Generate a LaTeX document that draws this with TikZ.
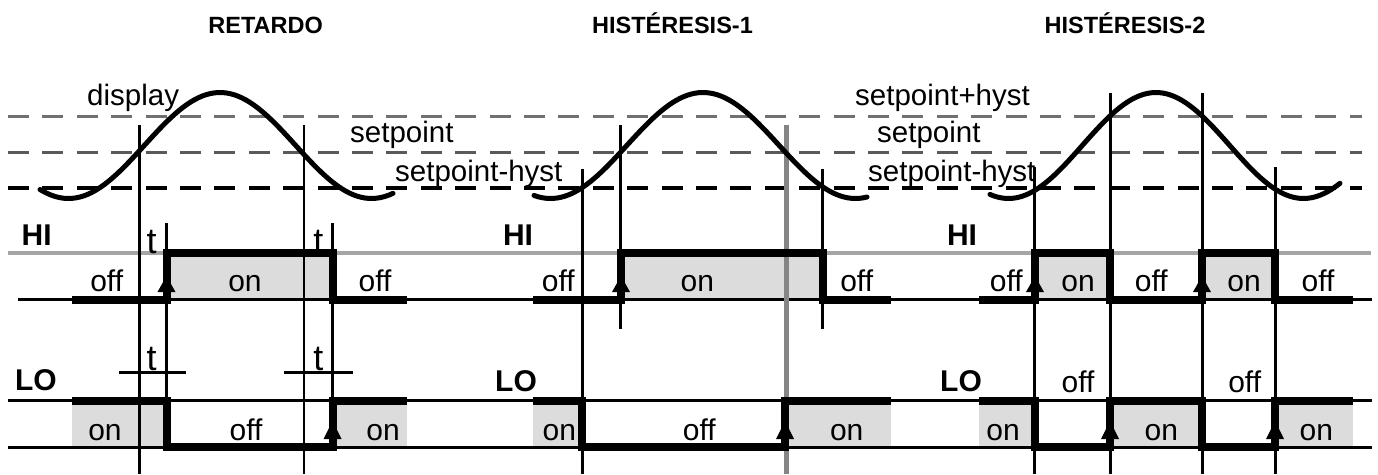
\documentclass[tikz,border=0pt]{standalone}
\usepackage{fontspec}
\setmainfont{Liberation Sans}
\definecolor{fillg}{HTML}{DCDCDC}
\definecolor{dashg}{HTML}{707070}
\definecolor{dashm}{HTML}{5A5A5A}
\definecolor{hig}{HTML}{A5A5A5}
\definecolor{vg}{HTML}{858585}
\begin{document}
\begin{tikzpicture}[x=1pt,y=-1pt,
  lbl/.style={font=\fontsize{29.5}{30}\selectfont, inner sep=0pt, anchor=base west},
  st/.style={font=\fontsize{30}{30}\selectfont, inner sep=0pt, anchor=base},
  tl/.style={font=\fontsize{36}{36}\selectfont, inner sep=0pt, anchor=base},
  hl/.style={font=\fontsize{30}{30}\selectfont\bfseries, inner sep=0pt, anchor=base},
  ttl/.style={font=\fontsize{23.5}{24}\selectfont\bfseries, inner sep=0pt, anchor=base},
  dl/.style={line width=3pt, dash pattern=on 21pt off 13.4pt},
  thinl/.style={line width=2.5pt},
  sig/.style={line width=8pt, line join=miter},
  wave/.style={line width=5pt, line cap=round, line join=round},
  onbox/.style={fill=fillg}
]
\useasboundingbox (0,0) rectangle (1378,474);
% ---- fills
\fill[onbox] (166.5,252.5) rectangle (332.5,299.3);
\fill[onbox] (621,252.5) rectangle (823,299.3);
\fill[onbox] (1035,252.5) rectangle (1110,299.3);
\fill[onbox] (1202,252.5) rectangle (1275,299.3);
\fill[onbox] (72,400.5) rectangle (166.5,446.5);
\fill[onbox] (332.5,400.5) rectangle (406.7,446.5);
\fill[onbox] (533,400.5) rectangle (582,446.5);
\fill[onbox] (785,400.5) rectangle (891,446.5);
\fill[onbox] (979,400.5) rectangle (1035,446.5);
\fill[onbox] (1110,400.5) rectangle (1202,446.5);
\fill[onbox] (1275,400.5) rectangle (1353,446.5);
% ---- threshold lines
\draw[dl, draw=dashg] (8,116) -- (1362,116);
\draw[dl, draw=dashm] (8,152.5) -- (1362,152.5);
\draw[dl, line width=4pt] (8,188) -- (1362,188);
% ---- HI reference line and baselines
\draw[line width=4pt, hig] (8,252.5) -- (1371,252.5);
\draw[thinl] (18,299.3) -- (1372,299.3);
\draw[thinl] (8,400.3) -- (1372,400.3);
\draw[thinl] (8,447.3) -- (1372,447.3);
% ---- vertical markers
\draw[thinl] (139.3,125) -- (139.3,474);
\draw[thinl] (304,125) -- (304,474);
\draw[thinl] (166.5,223) -- (166.5,447);
\draw[thinl] (332.5,223) -- (332.5,447);
\draw[thinl] (119,372.3) -- (185.7,372.3);
\draw[thinl] (284,372.3) -- (352.7,372.3);
\draw[thinl] (582.3,169) -- (582.3,474);
\draw[thinl] (620.7,125) -- (620.7,329);
\draw[thinl] (822.3,169) -- (822.3,329);
\draw[line width=4.5pt, vg] (786.7,125) -- (786.7,474);
\draw[thinl] (1034.7,167) -- (1034.7,474);
\draw[thinl] (1110.3,93) -- (1110.3,474);
\draw[thinl] (1202.3,93) -- (1202.3,474);
\draw[thinl] (1275.3,167) -- (1275.3,474);
% ---- display waves
\draw[wave] plot[domain=40:393, samples=90] (\x, {145.5 - 53*cos(((\x-220)/303)*360)});
\draw[wave] plot[domain=534:867, samples=90] (\x, {145.5 - 53*cos(((\x-703)/305)*360)});
\draw[wave] plot[domain=990:1340, samples=90] (\x, {145.5 - 53*cos(((\x-1156)/295)*360)});
% ---- output signals
\draw[sig] (72,299.5) -- (166.5,299.5) -- (166.5,252.5) -- (332.5,252.5) -- (332.5,299.5) -- (406.7,299.5);
\draw[sig] (72,400.5) -- (166.5,400.5) -- (166.5,446.5) -- (332.5,446.5) -- (332.5,400.5) -- (406.7,400.5);
\draw[sig] (533,299.5) -- (621,299.5) -- (621,252.5) -- (823,252.5) -- (823,299.5) -- (891,299.5);
\draw[sig] (533,400.5) -- (582,400.5) -- (582,446.5) -- (785,446.5) -- (785,400.5) -- (891,400.5);
\draw[sig] (979,299.5) -- (1035,299.5) -- (1035,252.5) -- (1110,252.5) -- (1110,299.5) -- (1202,299.5) -- (1202,252.5) -- (1275,252.5) -- (1275,299.5) -- (1353,299.5);
\draw[sig] (979,400.5) -- (1035,400.5) -- (1035,446.5) -- (1110,446.5) -- (1110,400.5) -- (1202,400.5) -- (1202,446.5) -- (1275,446.5) -- (1275,400.5) -- (1353,400.5);
% ---- rising-edge arrowheads
\foreach \ax in {166.5,621,1035,1202}
  \fill (\ax,276) -- (\ax+9,292) -- (\ax-9,292) -- cycle;
\foreach \ax in {332.5,785,1110,1275}
  \fill (\ax,421) -- (\ax+9,439) -- (\ax-9,439) -- cycle;
% ---- titles
\node[ttl] (t1) at (265.7,33) {RETARDO};
\node[ttl] (t2) at (672.5,33) {HISTÉRESIS-1};
\node[ttl] (t3) at (1125,33) {HISTÉRESIS-2};
% ---- threshold labels
\node[lbl] (disp) at (87,105) {display};
\node[lbl] (sp1) at (350,142.5) {setpoint};
\node[lbl] (sph1) at (395,181.5) {setpoint-hyst};
\node[lbl] (spp3) at (855,105) {setpoint+hyst};
\node[lbl] (sp3) at (877,142.5) {setpoint};
\node[lbl] (sph3) at (868,181.5) {setpoint-hyst};
% ---- HI / LO
\node[hl] (hi1) at (36.7,245) {HI};
\node[hl] (lo1) at (36,390) {LO};
\node[hl] (hi2) at (518,245) {HI};
\node[hl] (lo2) at (516,391.5) {LO};
\node[hl] (hi3) at (962,245) {HI};
\node[hl] (lo3) at (961,391.5) {LO};
% ---- delay labels
\node[tl] (d1) at (151.7,253) {t};
\node[tl] (d2) at (318.3,253) {t};
\node[tl] (d3) at (151.7,370) {t};
\node[tl] (d4) at (318.3,370) {t};
% ---- on/off labels
\node[st] (a1) at (106.7,291.7) {off};
\node[st] (a2) at (245,291.7) {on};
\node[st] (a3) at (375,291.7) {off};
\node[st] (b1) at (105,440) {on};
\node[st] (b2) at (246,440) {off};
\node[st] (b3) at (383,440) {on};
\node[st] (c1) at (558.3,291.7) {off};
\node[st] (c2) at (697.3,291.7) {on};
\node[st] (c3) at (856.7,291.7) {off};
\node[st] (e1) at (559.3,440) {on};
\node[st] (e2) at (699.3,440) {off};
\node[st] (e3) at (846.7,440) {on};
\node[st] (f1) at (1006.3,291.7) {off};
\node[st] (f2) at (1078,291.7) {on};
\node[st] (f3) at (1151.3,291.7) {off};
\node[st] (f4) at (1244,291.7) {on};
\node[st] (f5) at (1318,291.7) {off};
\node[st] (g1) at (1003,440) {on};
\node[st] (g2) at (1078,392.5) {off};
\node[st] (g3) at (1161.3,440) {on};
\node[st] (g4) at (1244.7,392.5) {off};
\node[st] (g5) at (1316.3,440) {on};
\end{tikzpicture}
\end{document}
